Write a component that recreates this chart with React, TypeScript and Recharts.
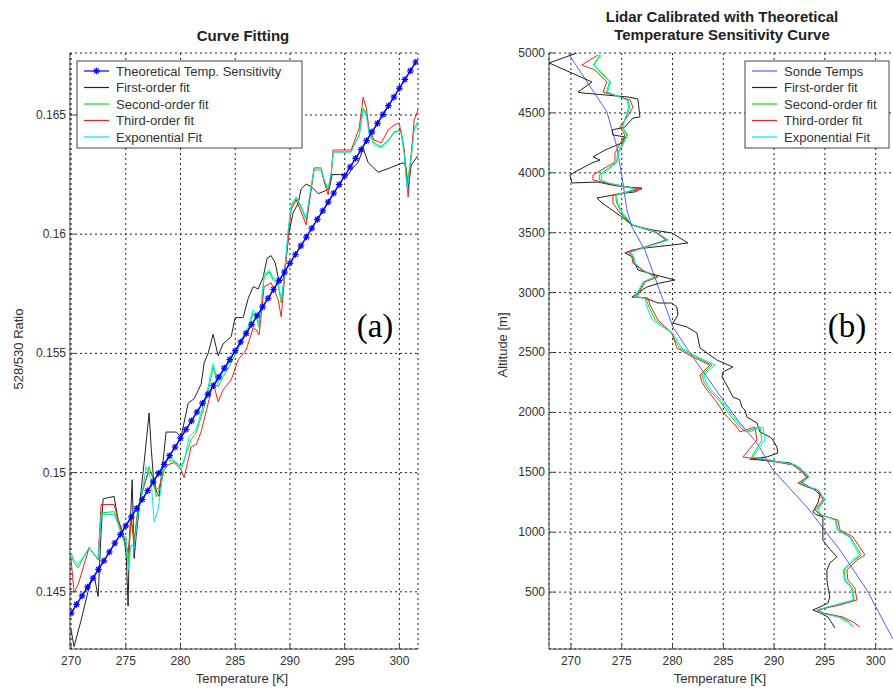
import { CartesianGrid, Line, LineChart, XAxis, YAxis } from "recharts";

const SANS = "'Liberation Sans', Arial, Helvetica, sans-serif";
const SERIF = "'Liberation Serif', 'Times New Roman', serif";
const AXIS = "#444";
const TXT = "#333";

const BLUE = "#0000ff";
const BLUE_B = "#5a5aff";
const BLACK = "#222";
const GREEN = "#00e600";
const RED = "#ff1a1a";
const CYAN = "#00e8e8";

// ---- panel (a): 528/530 ratio vs temperature ----
const tempTicks = [270, 275, 280, 285, 290, 295, 300];
const ratioTicks = [0.145, 0.15, 0.155, 0.16, 0.165];

const theoryA = [
  [270, 0.1441], [270.5, 0.14447], [271, 0.14483], [271.5, 0.1452], [272, 0.14557], [272.5, 0.14594],
  [273, 0.1463], [273.5, 0.14667], [274, 0.14704], [274.5, 0.1474], [275, 0.14777], [275.5, 0.14814],
  [276, 0.1485], [276.5, 0.14887], [277, 0.14924], [277.5, 0.14961], [278, 0.14997], [278.5, 0.15034],
  [279, 0.15071], [279.5, 0.15107], [280, 0.15144], [280.5, 0.15181], [281, 0.15217], [281.5, 0.15254],
  [282, 0.15291], [282.5, 0.15328], [283, 0.15364], [283.5, 0.15401], [284, 0.15438], [284.5, 0.15474],
  [285, 0.15511], [285.5, 0.15548], [286, 0.15584], [286.5, 0.15621], [287, 0.15658], [287.5, 0.15695],
  [288, 0.15731], [288.5, 0.15768], [289, 0.15805], [289.5, 0.15841], [290, 0.15878], [290.5, 0.15915],
  [291, 0.15951], [291.5, 0.15988], [292, 0.16025], [292.5, 0.16062], [293, 0.16098], [293.5, 0.16135],
  [294, 0.16172], [294.5, 0.16208], [295, 0.16245], [295.5, 0.16282], [296, 0.16318], [296.5, 0.16355],
  [297, 0.16392], [297.5, 0.16429], [298, 0.16465], [298.5, 0.16502], [299, 0.16539], [299.5, 0.16575],
  [300, 0.16612], [300.5, 0.16649], [301, 0.16685], [301.5, 0.16722],
];

const firstA = [
  [270.0, 0.1434], [270.27, 0.1427], [270.91, 0.1438], [271.65, 0.1452], [272.1, 0.1457], [272.47, 0.1448],
  [272.74, 0.1475], [272.93, 0.1489], [273.93, 0.149], [274.3, 0.148], [274.75, 0.1475], [275.03, 0.1466],
  [275.21, 0.1444], [275.3, 0.1466], [275.58, 0.1497], [275.76, 0.1464], [275.94, 0.1473], [276.22, 0.1485],
  [276.67, 0.1504], [277.13, 0.1525], [277.31, 0.1511], [277.59, 0.1494], [278.04, 0.149], [278.41, 0.1505],
  [278.68, 0.1517], [279.6, 0.1517], [280.05, 0.1515], [280.69, 0.1529], [281.24, 0.1531], [281.88, 0.1537],
  [282.16, 0.1546], [282.52, 0.155], [282.98, 0.1558], [283.44, 0.1549], [283.89, 0.1554], [284.63, 0.1557],
  [284.99, 0.1565], [285.72, 0.1565], [286.18, 0.1573], [286.64, 0.1578], [287.09, 0.1577], [287.55, 0.1582],
  [287.92, 0.159], [288.28, 0.1591], [288.65, 0.1588], [289.01, 0.158], [289.38, 0.1581], [289.65, 0.159],
  [289.93, 0.1601], [290.29, 0.1609], [290.75, 0.1613], [291.02, 0.1619], [291.48, 0.1621], [291.94, 0.162],
  [292.58, 0.1617], [293.13, 0.1618], [293.58, 0.1619], [293.86, 0.1625], [295.32, 0.1625], [295.78, 0.1628],
  [296.23, 0.163], [296.69, 0.1636], [297.15, 0.163], [298.06, 0.1626], [299.25, 0.1628], [300.35, 0.163],
  [300.62, 0.1628], [300.8, 0.1619], [301.08, 0.1629], [301.7, 0.1633],
];

const secondA = [
  [270.0, 0.14652], [270.27, 0.14622], [270.64, 0.14601], [271.65, 0.14685], [272.47, 0.14635], [272.74, 0.14836],
  [272.93, 0.14832], [273.93, 0.14836], [274.3, 0.14794], [274.57, 0.14748], [275.03, 0.14689], [275.21, 0.14622],
  [275.48, 0.14815], [275.76, 0.14719], [276.12, 0.14857], [276.67, 0.14941], [277.13, 0.15025], [277.59, 0.14958],
  [277.77, 0.14899], [278.04, 0.14928], [278.5, 0.15042], [278.87, 0.15054], [279.41, 0.15046], [280.05, 0.15025],
  [280.33, 0.15054], [280.97, 0.15138], [281.43, 0.15167], [281.88, 0.15234], [282.16, 0.15276], [282.61, 0.1536],
  [282.98, 0.15444], [283.44, 0.1536], [283.89, 0.15402], [284.44, 0.15444], [285.08, 0.15503], [285.54, 0.15544],
  [286.18, 0.15599], [286.64, 0.1567], [286.91, 0.15653], [287.18, 0.15611], [287.64, 0.15821], [288.1, 0.15842],
  [288.46, 0.15808], [288.92, 0.15788], [289.2, 0.15712], [289.47, 0.15808], [289.84, 0.1601], [290.11, 0.16114],
  [290.57, 0.16152], [291.02, 0.1611], [291.48, 0.1606], [291.94, 0.16194], [292.21, 0.16269], [292.85, 0.16269],
  [293.13, 0.16219], [293.49, 0.16186], [293.77, 0.16249], [293.95, 0.16345], [295.59, 0.16345], [295.87, 0.16374],
  [296.33, 0.16416], [296.69, 0.16529], [296.97, 0.16508], [297.24, 0.16429], [297.7, 0.16383], [298.34, 0.16366],
  [298.98, 0.16395], [299.52, 0.16429], [300.16, 0.16437], [300.44, 0.16353], [300.71, 0.16207], [301.08, 0.16332],
  [301.35, 0.16446], [301.7, 0.16471],
];

const thirdA = [
  [270.0, 0.14635], [270.27, 0.14497], [270.64, 0.1453], [271.65, 0.14685], [272.47, 0.14635], [272.74, 0.14866],
  [273.93, 0.14866], [274.3, 0.14803], [274.57, 0.14761], [275.03, 0.14698], [275.21, 0.14664], [275.48, 0.14803],
  [275.76, 0.14698], [276.12, 0.14845], [276.67, 0.14949], [277.13, 0.15004], [277.59, 0.14979], [277.77, 0.14928],
  [278.04, 0.14937], [278.5, 0.15012], [278.87, 0.15033], [279.41, 0.15042], [280.05, 0.15012], [280.33, 0.14979],
  [280.97, 0.15109], [281.43, 0.15117], [281.88, 0.15171], [282.16, 0.15222], [282.61, 0.15306], [282.98, 0.15377],
  [283.44, 0.15297], [283.89, 0.15347], [284.63, 0.15389], [285.27, 0.15473], [286.0, 0.15515], [286.64, 0.15607],
  [286.91, 0.15599], [287.18, 0.15578], [287.64, 0.15779], [288.28, 0.15796], [288.92, 0.15725], [289.2, 0.15653],
  [289.47, 0.15796], [289.93, 0.16031], [290.11, 0.16102], [290.57, 0.16144], [291.02, 0.16093], [291.48, 0.16039],
  [291.94, 0.16186], [292.21, 0.16278], [292.85, 0.16278], [293.13, 0.16219], [293.49, 0.16165], [293.77, 0.16249],
  [293.95, 0.16353], [295.59, 0.16353], [295.87, 0.16387], [296.33, 0.16446], [296.69, 0.16575], [296.97, 0.16529],
  [297.24, 0.16437], [297.7, 0.16395], [298.34, 0.16383], [298.98, 0.16437], [299.52, 0.16458], [299.98, 0.16466],
  [300.44, 0.16353], [300.8, 0.16156], [301.08, 0.16332], [301.35, 0.16479], [301.7, 0.16521],
];

const expA = [
  [270.0, 0.14664], [270.27, 0.14635], [270.64, 0.14614], [271.65, 0.14685], [272.47, 0.14635], [272.74, 0.14824],
  [273.93, 0.14824], [274.3, 0.14782], [274.57, 0.1474], [275.03, 0.14731], [275.21, 0.14593], [275.48, 0.14698],
  [275.76, 0.14685], [276.12, 0.14824], [276.4, 0.14886], [276.86, 0.15025], [277.31, 0.1497], [277.59, 0.14794],
  [277.95, 0.14845], [278.32, 0.1497], [278.68, 0.15042], [278.96, 0.15067], [279.6, 0.15046], [280.05, 0.15012],
  [280.33, 0.15046], [280.79, 0.1515], [281.43, 0.1518], [281.88, 0.15251], [282.16, 0.15293], [282.61, 0.15377],
  [282.98, 0.15456], [283.44, 0.15377], [283.89, 0.15419], [284.44, 0.15461], [285.08, 0.15515], [285.54, 0.15557],
  [286.18, 0.15611], [286.64, 0.15683], [286.91, 0.15666], [287.18, 0.15624], [287.64, 0.15829], [288.1, 0.1585],
  [288.46, 0.15817], [288.92, 0.158], [289.2, 0.15725], [289.47, 0.15817], [289.84, 0.16018], [290.11, 0.16123],
  [290.57, 0.16156], [291.02, 0.16119], [291.48, 0.16068], [291.94, 0.16202], [292.21, 0.16278], [292.85, 0.16278],
  [293.13, 0.16228], [293.49, 0.16194], [293.77, 0.16257], [293.95, 0.16345], [295.59, 0.16345], [295.87, 0.16374],
  [296.33, 0.16412], [296.69, 0.16521], [296.97, 0.165], [297.24, 0.1642], [297.7, 0.16374], [298.34, 0.16362],
  [298.98, 0.16391], [299.52, 0.16425], [300.16, 0.16433], [300.44, 0.16332], [300.71, 0.16186], [301.08, 0.16324],
  [301.35, 0.16437], [301.7, 0.16462],
];

// ---- panel (b): altitude vs temperature ----
const altTicks = [500, 1000, 1500, 2000, 2500, 3000, 3500, 4000, 4500, 5000];

const sondeB = [
  [269.7, 5000], [271.67, 4750], [273.54, 4508], [274.53, 4215], [275.12, 3915], [275.51, 3690], [276.0, 3548],
  [277.28, 3356], [278.46, 3080], [280.04, 2713], [281.71, 2496], [283.39, 2296], [284.96, 2104], [286.63, 1912],
  [288.31, 1745], [289.88, 1519], [293.23, 1210], [296.48, 852], [299.13, 518], [301.59, 125], [302.1, 60],
];

const firstB = [
  [270.59, 5000], [267.85, 4917], [272.07, 4758], [270.69, 4674], [271.18, 4666], [275.61, 4633], [276.59, 4616],
  [276.79, 4466], [276.1, 4457], [275.31, 4382], [274.04, 4357], [274.13, 4316], [275.31, 4299], [275.02, 4249],
  [273.35, 4190], [272.17, 4132], [272.85, 4107], [272.07, 4082], [270.39, 4007], [269.9, 3982], [270.1, 3915],
  [272.66, 3923], [274.04, 3898], [275.31, 3881], [276.99, 3873], [276.3, 3840], [275.31, 3831], [272.56, 3790],
  [273.05, 3748], [274.04, 3690], [275.02, 3631], [276.0, 3564], [277.97, 3523], [279.94, 3498], [281.52, 3414],
  [279.94, 3397], [277.28, 3372], [276.1, 3356], [275.31, 3331], [276.1, 3297], [276.3, 3247], [276.59, 3189],
  [277.58, 3164], [280.24, 3105], [278.76, 3080], [277.48, 3047], [276.0, 2963], [277.28, 2955], [278.56, 2913],
  [279.94, 2913], [280.43, 2880], [280.53, 2813], [280.04, 2746], [281.42, 2713], [282.4, 2663], [282.7, 2538],
  [284.37, 2437], [285.94, 2379], [284.96, 2337], [284.86, 2296], [285.45, 2212], [285.94, 2129], [286.63, 2104],
  [286.83, 2045], [287.13, 2020], [287.32, 1962], [288.31, 1912], [288.6, 1837], [289.59, 1795], [289.88, 1770],
  [290.28, 1711], [290.37, 1661], [289.29, 1628], [287.62, 1611], [291.56, 1578], [292.54, 1536], [293.23, 1453],
  [292.74, 1411], [293.52, 1377], [294.02, 1352], [294.51, 1311], [294.31, 1244], [293.82, 1169], [294.21, 1144],
  [294.8, 1127], [294.8, 1044], [294.8, 935], [295.3, 877], [296.18, 793], [295.49, 743], [295.2, 685],
  [295.2, 601], [295.3, 543], [295.49, 459], [295.3, 409], [294.51, 376], [293.82, 351], [294.51, 326],
  [295.3, 292], [295.69, 242], [295.98, 200],
];

const secondB = [
  [272.85, 4983], [272.2, 4900], [272.7, 4858], [273.8, 4758], [273.5, 4674], [275.6, 4608], [275.8, 4549],
  [275.6, 4499], [275.0, 4382], [275.5, 4316], [274.6, 4165], [274.5, 4090], [272.8, 3982], [272.8, 3940],
  [273.6, 3915], [275.6, 3881], [276.5, 3865], [275.6, 3840], [274.4, 3815], [274.5, 3748], [275.0, 3665],
  [276.0, 3564], [278.3, 3506], [279.3, 3439], [277.4, 3381], [275.8, 3339], [276.1, 3297], [276.2, 3247],
  [277.0, 3189], [278.3, 3130], [277.2, 3089], [276.4, 2963], [277.4, 2955], [277.6, 2897], [278.3, 2771],
  [279.9, 2663], [280.7, 2538], [282.3, 2462], [283.9, 2396], [282.9, 2312], [283.1, 2254], [283.6, 2187],
  [284.3, 2129], [285.1, 2045], [285.4, 2003], [286.6, 1878], [287.2, 1837], [288.6, 1878], [288.8, 1770],
  [287.8, 1628], [289.4, 1603], [292.0, 1561], [292.9, 1503], [293.4, 1461], [292.5, 1411], [293.4, 1377],
  [294.3, 1352], [294.9, 1270], [294.2, 1185], [294.6, 1144], [296.1, 1102], [296.3, 1019], [297.5, 960],
  [298.6, 810], [297.9, 768], [296.9, 685], [297.0, 601], [297.7, 534], [297.9, 434], [296.2, 393],
  [294.4, 351], [294.8, 326], [296.5, 292], [297.4, 251], [297.9, 209],
];

const thirdB = [
  [272.66, 4983], [271.08, 4900], [272.36, 4858], [273.54, 4758], [273.15, 4674], [275.81, 4608], [276.1, 4549],
  [275.81, 4499], [274.82, 4382], [275.31, 4316], [274.33, 4165], [274.33, 4090], [272.17, 3982], [272.17, 3940],
  [273.35, 3915], [275.61, 3881], [276.99, 3865], [275.61, 3840], [274.13, 3815], [274.13, 3748], [274.82, 3665],
  [276.0, 3564], [278.27, 3506], [279.45, 3439], [277.28, 3381], [275.61, 3339], [276.0, 3297], [276.1, 3247],
  [276.99, 3189], [278.56, 3130], [277.28, 3089], [276.5, 2963], [277.58, 2955], [277.78, 2897], [278.56, 2771],
  [279.94, 2663], [280.43, 2538], [282.01, 2462], [283.68, 2396], [282.7, 2312], [282.89, 2254], [283.39, 2187],
  [283.98, 2129], [284.67, 2045], [284.96, 2003], [286.34, 1878], [286.63, 1837], [288.11, 1878], [288.31, 1770],
  [286.93, 1628], [289.09, 1603], [291.85, 1561], [292.74, 1503], [293.33, 1461], [292.34, 1411], [293.23, 1377],
  [294.31, 1352], [294.8, 1270], [294.02, 1185], [294.51, 1144], [296.28, 1102], [296.48, 1019], [297.76, 960],
  [298.94, 810], [298.15, 768], [297.17, 685], [297.26, 601], [297.95, 534], [298.15, 434], [296.48, 393],
  [294.21, 351], [294.8, 326], [296.77, 292], [297.76, 251], [298.44, 209],
];

const expB = [
  [273.0, 4983], [272.3, 4900], [272.8, 4858], [273.9, 4758], [273.6, 4674], [275.5, 4608], [275.7, 4549],
  [275.5, 4499], [275.1, 4382], [275.6, 4316], [274.7, 4165], [274.6, 4090], [273.0, 3982], [273.0, 3940],
  [273.7, 3915], [275.5, 3881], [276.3, 3865], [275.5, 3840], [274.5, 3815], [274.6, 3748], [275.1, 3665],
  [276.1, 3564], [278.4, 3506], [279.6, 3439], [277.5, 3381], [275.9, 3339], [276.2, 3297], [276.3, 3247],
  [277.1, 3189], [278.2, 3130], [277.1, 3089], [276.3, 2963], [277.3, 2955], [277.4, 2897], [278.0, 2771],
  [280.0, 2663], [280.9, 2538], [282.5, 2462], [284.2, 2396], [283.1, 2312], [283.3, 2254], [283.8, 2187],
  [284.5, 2129], [285.3, 2045], [285.6, 2003], [286.8, 1878], [287.5, 1837], [288.9, 1878], [289.1, 1770],
  [287.9, 1628], [289.6, 1603], [292.1, 1561], [293.0, 1503], [293.5, 1461], [292.6, 1411], [293.5, 1377],
  [294.4, 1352], [295.0, 1270], [294.3, 1185], [294.7, 1144], [296.0, 1102], [296.2, 1019], [297.4, 960],
  [298.4, 810], [297.7, 768], [296.8, 685], [296.9, 601], [297.6, 534], [297.8, 434], [296.0, 393],
  [294.2, 351], [294.6, 326], [296.3, 292], [297.2, 251], [297.7, 209],
];

const legendA = ["Theoretical Temp. Sensitivity", "First-order fit", "Second-order fit", "Third-order fit", "Exponential Fit"];
const legendB = ["Sonde Temps", "First-order fit", "Second-order fit", "Third-order fit", "Exponential Fit"];

const pts = (arr: number[][]) => arr.map(([t, v]) => ({ t, v }));

// inward tick marks like matlab, labels outside
function BottomTick({ x, y, payload }: any) {
  return (
    <g>
      <line x1={x} y1={y - 4} x2={x} y2={y - 9} stroke={AXIS} />
      <text x={x} y={y + 12} textAnchor="middle" fontFamily={SANS} fontSize={12} fill={TXT}>
        {payload.value}
      </text>
    </g>
  );
}

function LeftTick({ x, y, payload }: any) {
  return (
    <g>
      <line x1={x + 4} y1={y} x2={x + 9} y2={y} stroke={AXIS} />
      <text x={x} y={y + 4} textAnchor="end" fontFamily={SANS} fontSize={12} fill={TXT}>
        {payload.value}
      </text>
    </g>
  );
}

function TopTick({ x, y }: any) {
  return <line x1={x} y1={y} x2={x} y2={y + 5} stroke={AXIS} />;
}

function RightTick({ x, y }: any) {
  return <line x1={x} y1={y} x2={x - 5} y2={y} stroke={AXIS} />;
}

function renderStar(props: any) {
  const { cx, cy, index } = props;
  if (cx == null || cy == null) return <g key={index} />;
  const r = 3.3;
  const d = r * 0.72;
  return (
    <g key={index} stroke={BLUE} strokeWidth={1.2}>
      <line x1={cx - r} y1={cy} x2={cx + r} y2={cy} />
      <line x1={cx} y1={cy - r} x2={cx} y2={cy + r} />
      <line x1={cx - d} y1={cy - d} x2={cx + d} y2={cy + d} />
      <line x1={cx - d} y1={cy + d} x2={cx + d} y2={cy - d} />
    </g>
  );
}

function Legend({ x, y, w, labels, colors, star }: any) {
  const rows = [10, 26.5, 43, 59.5, 76];
  return (
    <g>
      <rect x={x} y={y} width={w} height={87} fill="#fff" stroke={AXIS} />
      {labels.map((l: string, i: number) => (
        <g key={l}>
          <line x1={x + 7} x2={x + 32} y1={y + rows[i]} y2={y + rows[i]} stroke={colors[i]} strokeWidth={1.2} />
          {star && i === 0 && renderStar({ cx: x + 19.5, cy: y + rows[i], index: "s" })}
          <text x={x + 39} y={y + rows[i] + 4.5} fontFamily={SANS} fontSize={13} fill={TXT}>
            {l}
          </text>
        </g>
      ))}
    </g>
  );
}

const grid = <CartesianGrid stroke="#222" strokeDasharray="2 3" />;

export default function App() {
  return (
    <div style={{ position: "absolute", left: 0, top: 0, width: 893, height: 689, overflow: "hidden", background: "#fff" }}>
      <div style={{ position: "absolute", left: 0, top: 0 }}>
        <LineChart width={430} height={689} margin={{ top: 53, right: 12, bottom: 10, left: 20 }}>
          {grid}
          <XAxis
            type="number"
            dataKey="t"
            domain={[269.9, 301.7]}
            ticks={tempTicks}
            allowDataOverflow
            height={30}
            tickSize={0}
            tickMargin={4}
            tick={<BottomTick />}
            axisLine={{ stroke: AXIS }}
          />
          <XAxis
            xAxisId="top"
            orientation="top"
            type="number"
            domain={[269.9, 301.7]}
            ticks={tempTicks}
            allowDataOverflow
            height={0}
            tickSize={0}
            tickMargin={0}
            tick={<TopTick />}
            axisLine={{ stroke: AXIS }}
          />
          <YAxis
            type="number"
            domain={[0.1426, 0.1676]}
            ticks={ratioTicks}
            allowDataOverflow
            width={50}
            tickSize={0}
            tickMargin={4}
            tick={<LeftTick />}
            axisLine={{ stroke: AXIS }}
          />
          <YAxis
            yAxisId="right"
            orientation="right"
            type="number"
            domain={[0.1426, 0.1676]}
            ticks={ratioTicks}
            allowDataOverflow
            width={0}
            tickSize={0}
            tickMargin={0}
            tick={<RightTick />}
            axisLine={{ stroke: "#111", strokeWidth: 2 }}
          />
          <Line data={pts(firstA)} dataKey="v" stroke={BLACK} strokeWidth={1} dot={false} isAnimationActive={false} />
          <Line data={pts(secondA)} dataKey="v" stroke={GREEN} strokeWidth={1} dot={false} isAnimationActive={false} />
          <Line data={pts(thirdA)} dataKey="v" stroke={RED} strokeWidth={1} dot={false} isAnimationActive={false} />
          <Line data={pts(expA)} dataKey="v" stroke={CYAN} strokeWidth={1} dot={false} isAnimationActive={false} />
          <Line data={pts(theoryA)} dataKey="v" stroke={BLUE} strokeWidth={1.5} dot={renderStar} isAnimationActive={false} />
        </LineChart>
      </div>

      <div style={{ position: "absolute", left: 480, top: 0 }}>
        <LineChart width={430} height={689} margin={{ top: 53, right: 14, bottom: 10, left: 19 }}>
          {grid}
          <XAxis
            type="number"
            dataKey="t"
            domain={[267.84, 302]}
            ticks={tempTicks}
            allowDataOverflow
            height={30}
            tickSize={0}
            tickMargin={4}
            tick={<BottomTick />}
            axisLine={{ stroke: AXIS }}
          />
          <YAxis
            type="number"
            domain={[25, 5000]}
            ticks={altTicks}
            allowDataOverflow
            width={50}
            tickSize={0}
            tickMargin={4}
            tick={<LeftTick />}
            axisLine={{ stroke: AXIS }}
          />
          <Line data={pts(sondeB)} dataKey="v" stroke={BLUE_B} strokeWidth={1} dot={false} isAnimationActive={false} />
          <Line data={pts(firstB)} dataKey="v" stroke={BLACK} strokeWidth={1} dot={false} isAnimationActive={false} />
          <Line data={pts(secondB)} dataKey="v" stroke={GREEN} strokeWidth={1} dot={false} isAnimationActive={false} />
          <Line data={pts(thirdB)} dataKey="v" stroke={RED} strokeWidth={1} dot={false} isAnimationActive={false} />
          <Line data={pts(expB)} dataKey="v" stroke={CYAN} strokeWidth={1} dot={false} isAnimationActive={false} />
        </LineChart>
      </div>

      <svg width={893} height={689} style={{ position: "absolute", left: 0, top: 0, pointerEvents: "none" }}>
        <text x={243} y={41} textAnchor="middle" fontFamily={SANS} fontWeight="bold" fontSize={15} fill="#222">
          Curve Fitting
        </text>
        <text x={722} y={22} textAnchor="middle" fontFamily={SANS} fontWeight="bold" fontSize={15} fill="#222">
          Lidar Calibrated with Theoretical
        </text>
        <text x={722} y={40} textAnchor="middle" fontFamily={SANS} fontWeight="bold" fontSize={15} fill="#222">
          Temperature Sensitivity Curve
        </text>
        <text x={242} y={683} textAnchor="middle" fontFamily={SANS} fontSize={13} fill={TXT}>
          Temperature [K]
        </text>
        <text x={720} y={683} textAnchor="middle" fontFamily={SANS} fontSize={13} fill={TXT}>
          Temperature [K]
        </text>
        <text transform="translate(23 349) rotate(-90)" textAnchor="middle" fontFamily={SANS} fontSize={13} fill={TXT}>
          528/530 Ratio
        </text>
        <text transform="translate(507 345) rotate(-90)" textAnchor="middle" fontFamily={SANS} fontSize={13} fill={TXT}>
          Altitude [m]
        </text>
        <text x={375} y={337} textAnchor="middle" fontFamily={SERIF} fontSize={33} fill="#000">
          (a)
        </text>
        <text x={847} y={337} textAnchor="middle" fontFamily={SERIF} fontSize={33} fill="#000">
          (b)
        </text>
        <Legend x={77} y={61} w={225} labels={legendA} colors={[BLUE, BLACK, GREEN, RED, CYAN]} star />
        <Legend x={745} y={61} w={144} labels={legendB} colors={[BLUE_B, BLACK, GREEN, RED, CYAN]} />
      </svg>
    </div>
  );
}
